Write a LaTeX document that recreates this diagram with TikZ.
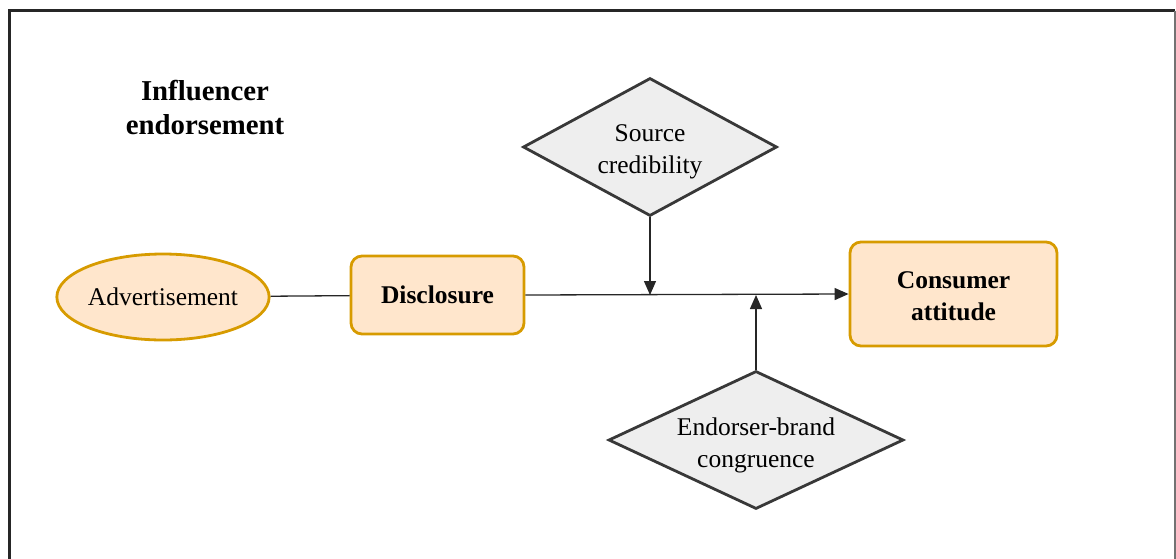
\documentclass[tikz,border=0pt]{standalone}
\usepackage{fontspec}
\setmainfont{Liberation Serif}
\usetikzlibrary{shapes.geometric,arrows.meta}
\definecolor{ofill}{HTML}{FFE6CC}
\definecolor{odraw}{HTML}{D79B00}
\definecolor{gfill}{HTML}{EEEEEE}
\definecolor{gdraw}{HTML}{383838}
\tikzset{
  txt/.style={font=\fontsize{25.5}{32}\selectfont, align=center},
  obox/.style={txt, draw=odraw, fill=ofill, line width=2.8pt, rounded corners=11pt, inner sep=0pt},
  oell/.style={txt, ellipse, draw=odraw, fill=ofill, line width=2.8pt, inner sep=0pt},
  gdia/.style={diamond, aspect=2.14, draw=gdraw, fill=gfill, line width=2.8pt, inner sep=0pt},
  conn/.style={line width=1.3pt, draw=black!85},
  arr/.style={conn, -{Triangle[length=14pt,width=12pt]}},
}
\begin{document}
\begin{tikzpicture}[x=1pt,y=-1pt]
\useasboundingbox (0,0) rectangle (1176,558);
% frame
\draw[line width=3.5pt, black!85] (9.5,562) -- (9.5,10.5) -- (1175,10.5);
\draw[line width=1.5pt, black!55] (1175,10.5) -- (1175,562);
% title
\node[txt, font=\fontsize{28.8}{34}\selectfont\bfseries] (title) at (205,107) {Influencer\\endorsement};
% nodes
\node[oell, minimum width=210pt, minimum height=86pt] (adv) at (163,297) {Advertisement};
\node[obox, minimum width=173pt, minimum height=78pt, font=\fontsize{25.5}{32}\selectfont\bfseries] (disc) at (437.5,295) {\raisebox{-1pt}{Disclosure}};
\node[obox, minimum width=207pt, minimum height=104pt] (cons) at (953.5,294) {};
\node[txt, font=\fontsize{25.5}{32}\selectfont\bfseries] (consT) at ([yshift=-2pt]cons.center) {Consumer\\attitude};
\node[gdia, minimum width=254pt, minimum height=138pt] (src) at (650,147) {};
\node[txt] (srcT) at ([yshift=-5pt]src.center) {Source\\credibility};
\node[gdia, minimum width=295pt, minimum height=138pt] (endo) at (756,440) {};
\node[txt] (endoT) at ([yshift=-5pt]endo.center) {Endorser-brand\\congruence};
% connectors
\draw[conn] (adv) -- (disc);
\draw[arr] (disc.east) -- (cons.west);
\draw[arr] (src.south) -- (src.south |- disc.east);
\draw[arr] (endo.north) -- (endo.north |- disc.east);
\end{tikzpicture}
\end{document}
